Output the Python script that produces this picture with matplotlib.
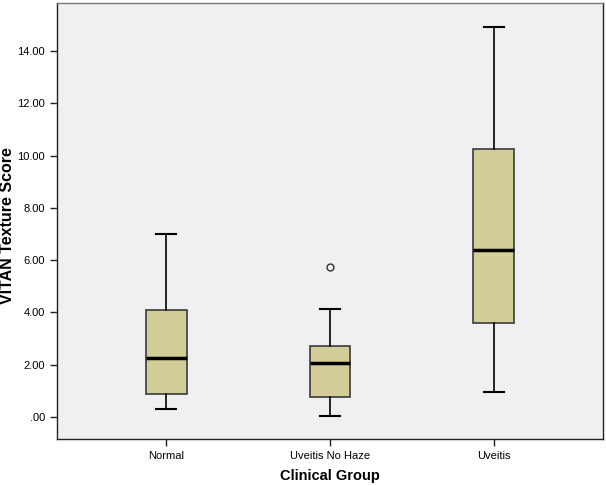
import matplotlib
matplotlib.use("Agg")
import matplotlib.pyplot as plt
from matplotlib.ticker import FuncFormatter

plt.rcParams['font.family'] = ['Liberation Sans', 'DejaVu Sans']

groups = ["Normal", "Uveitis No Haze", "Uveitis"]
whislo = [0.31, 0.05, 0.94]
q1 = [0.87, 0.78, 3.61]
med = [2.26, 2.08, 6.39]
q3 = [4.08, 2.70, 10.25]
whishi = [7.01, 4.13, 14.93]
fliers = [[], [5.74], []]

stats = []
for i, g in enumerate(groups):
    stats.append(dict(label=g, whislo=whislo[i], q1=q1[i], med=med[i],
                      q3=q3[i], whishi=whishi[i], fliers=fliers[i]))

fig = plt.figure(figsize=(6.06, 4.86), dpi=100)
ax = fig.add_axes([57/606, 1 - 439/486, (603-57)/606, (439-3)/486])
ax.set_facecolor('#F0F0F0')

ax.bxp(stats, positions=[1, 2, 3], widths=0.25, patch_artist=True,
       boxprops=dict(facecolor='#D3CE97', edgecolor='#3a3a3a', linewidth=1.2),
       medianprops=dict(color='black', linewidth=2.5),
       whiskerprops=dict(color='black', linewidth=1.2),
       capprops=dict(color='black', linewidth=1.5),
       capwidths=0.125,
       flierprops=dict(marker='o', markerfacecolor='none', markeredgecolor='#333333',
                       markersize=5, markeredgewidth=1))

ax.set_xlim(0.335, 3.665)
ax.set_ylim(-0.84, 15.84)
ax.set_yticks([0, 2, 4, 6, 8, 10, 12, 14])
ax.yaxis.set_major_formatter(FuncFormatter(lambda v, p: ".00" if v == 0 else f"{v:.2f}"))
ax.tick_params(axis='both', labelsize=8, length=5, width=1, color='#222222')
ax.tick_params(top=False, right=False)

for s in ax.spines.values():
    s.set_color('#222222')
    s.set_linewidth(1)
ax.spines['top'].set_color('#777777')

ax.set_ylabel("VITAN Texture Score", fontsize=11.5, fontweight='bold')
ax.yaxis.label.set_va('center')
ax.yaxis.set_label_coords(-49.5/546, (439-226)/436)
ax.set_xlabel("Clinical Group", fontsize=10.5, fontweight='bold')
ax.xaxis.label.set_va('center')
ax.xaxis.set_label_coords(0.5, -(476-439)/436)

fig.savefig("out.png", dpi=100)
